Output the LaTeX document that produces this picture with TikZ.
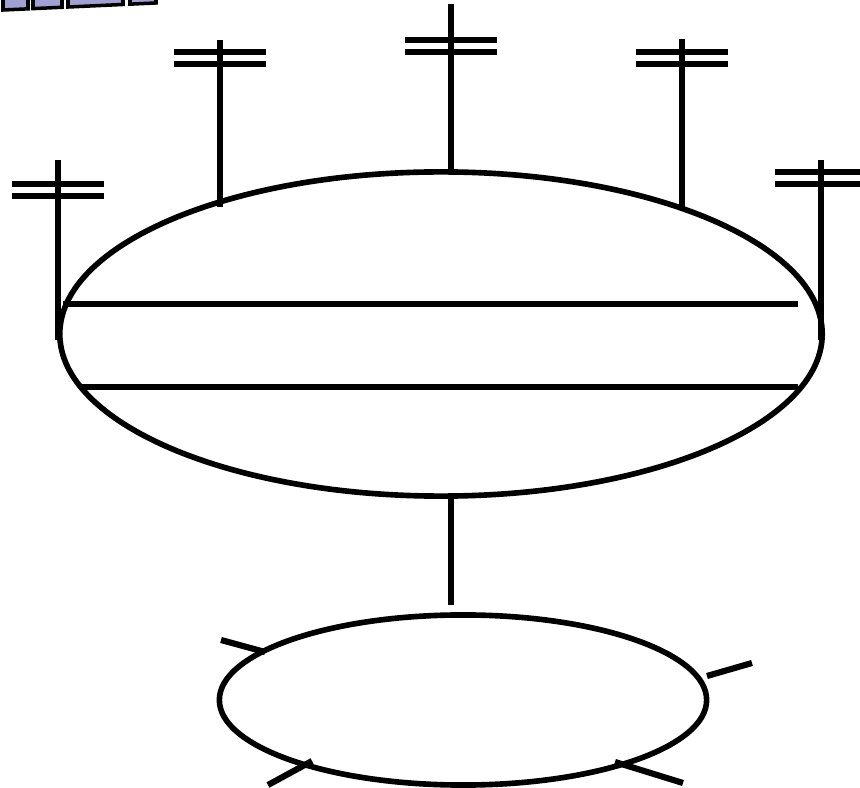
\documentclass[tikz,border=0pt]{standalone}
\usepackage{tikz}
\usetikzlibrary{shapes,positioning,calc}
\definecolor{tile}{RGB}{160,160,210}
\tikzstyle{wire} = [line width=1.75pt]
\tikzstyle{hub} = [ellipse, draw, line width=1.6pt, inner sep=0pt]
\tikzstyle{tilebox} = [fill=tile, draw=black, line width=1pt]

\begin{document}
\begin{tikzpicture}[x=0.01cm, y=-0.01cm]
    \useasboundingbox (0,0) rectangle (860,788);
    % tiles cut off at the top edge
    \foreach \a/\b in {3/28, 33/62, 68/123, 130/156}
        \draw[tilebox] (\a,-30) -- (\b,-30) -- (\b,{10-0.046*(\b-3)}) -- (\a,{10-0.046*(\a-3)}) -- cycle;
    % the two ellipses
    \node[hub, minimum width=7.62cm, minimum height=3.24cm] (bus) at (441,334) {};
    \node[hub, minimum width=4.87cm, minimum height=1.70cm] (ring) at (463,700) {};
    % bars inside the big ellipse
    \coordinate (b1w) at (63,304);
    \coordinate (b1e) at (798,304);
    \coordinate (b2w) at (80,387);
    \coordinate (b2e) at (798,387);
    \draw[wire] (b1w) -- (b1e);
    \draw[wire] (b2w) -- (b2e);
    % poles
    \foreach \px/\top/\bot/\bar in {58/160/340/184, 220/40/207/52, 451/4/172/40, 682/39/208/52, 821/160/340/172} {
        \coordinate (pt) at (\px,\top);
        \coordinate (pb) at (\px,\bot);
        \draw[wire] (pt) -- (pb);
        \draw[wire] (\px-46,\bar) -- (\px+46,\bar);
        \draw[wire] (\px-46,\bar+12) -- (\px+46,\bar+12);
    }
    % link down to the small ellipse
    \coordinate (lend) at (451,605);
    \draw[wire] (lend |- bus.south) -- (lend);
    % stubs on the small ellipse
    \coordinate (nwa) at (221,640);  \coordinate (nwb) at (265,652);
    \coordinate (ea) at (707,676);   \coordinate (eb) at (752,663);
    \coordinate (swa) at (268,785);  \coordinate (swb) at (312,761);
    \coordinate (sea) at (615,762);  \coordinate (seb) at (683,783);
    \draw[wire] (nwa) -- (nwb);
    \draw[wire] (ea) -- (eb);
    \draw[wire] (swa) -- (swb);
    \draw[wire] (sea) -- (seb);
\end{tikzpicture}
\end{document}
